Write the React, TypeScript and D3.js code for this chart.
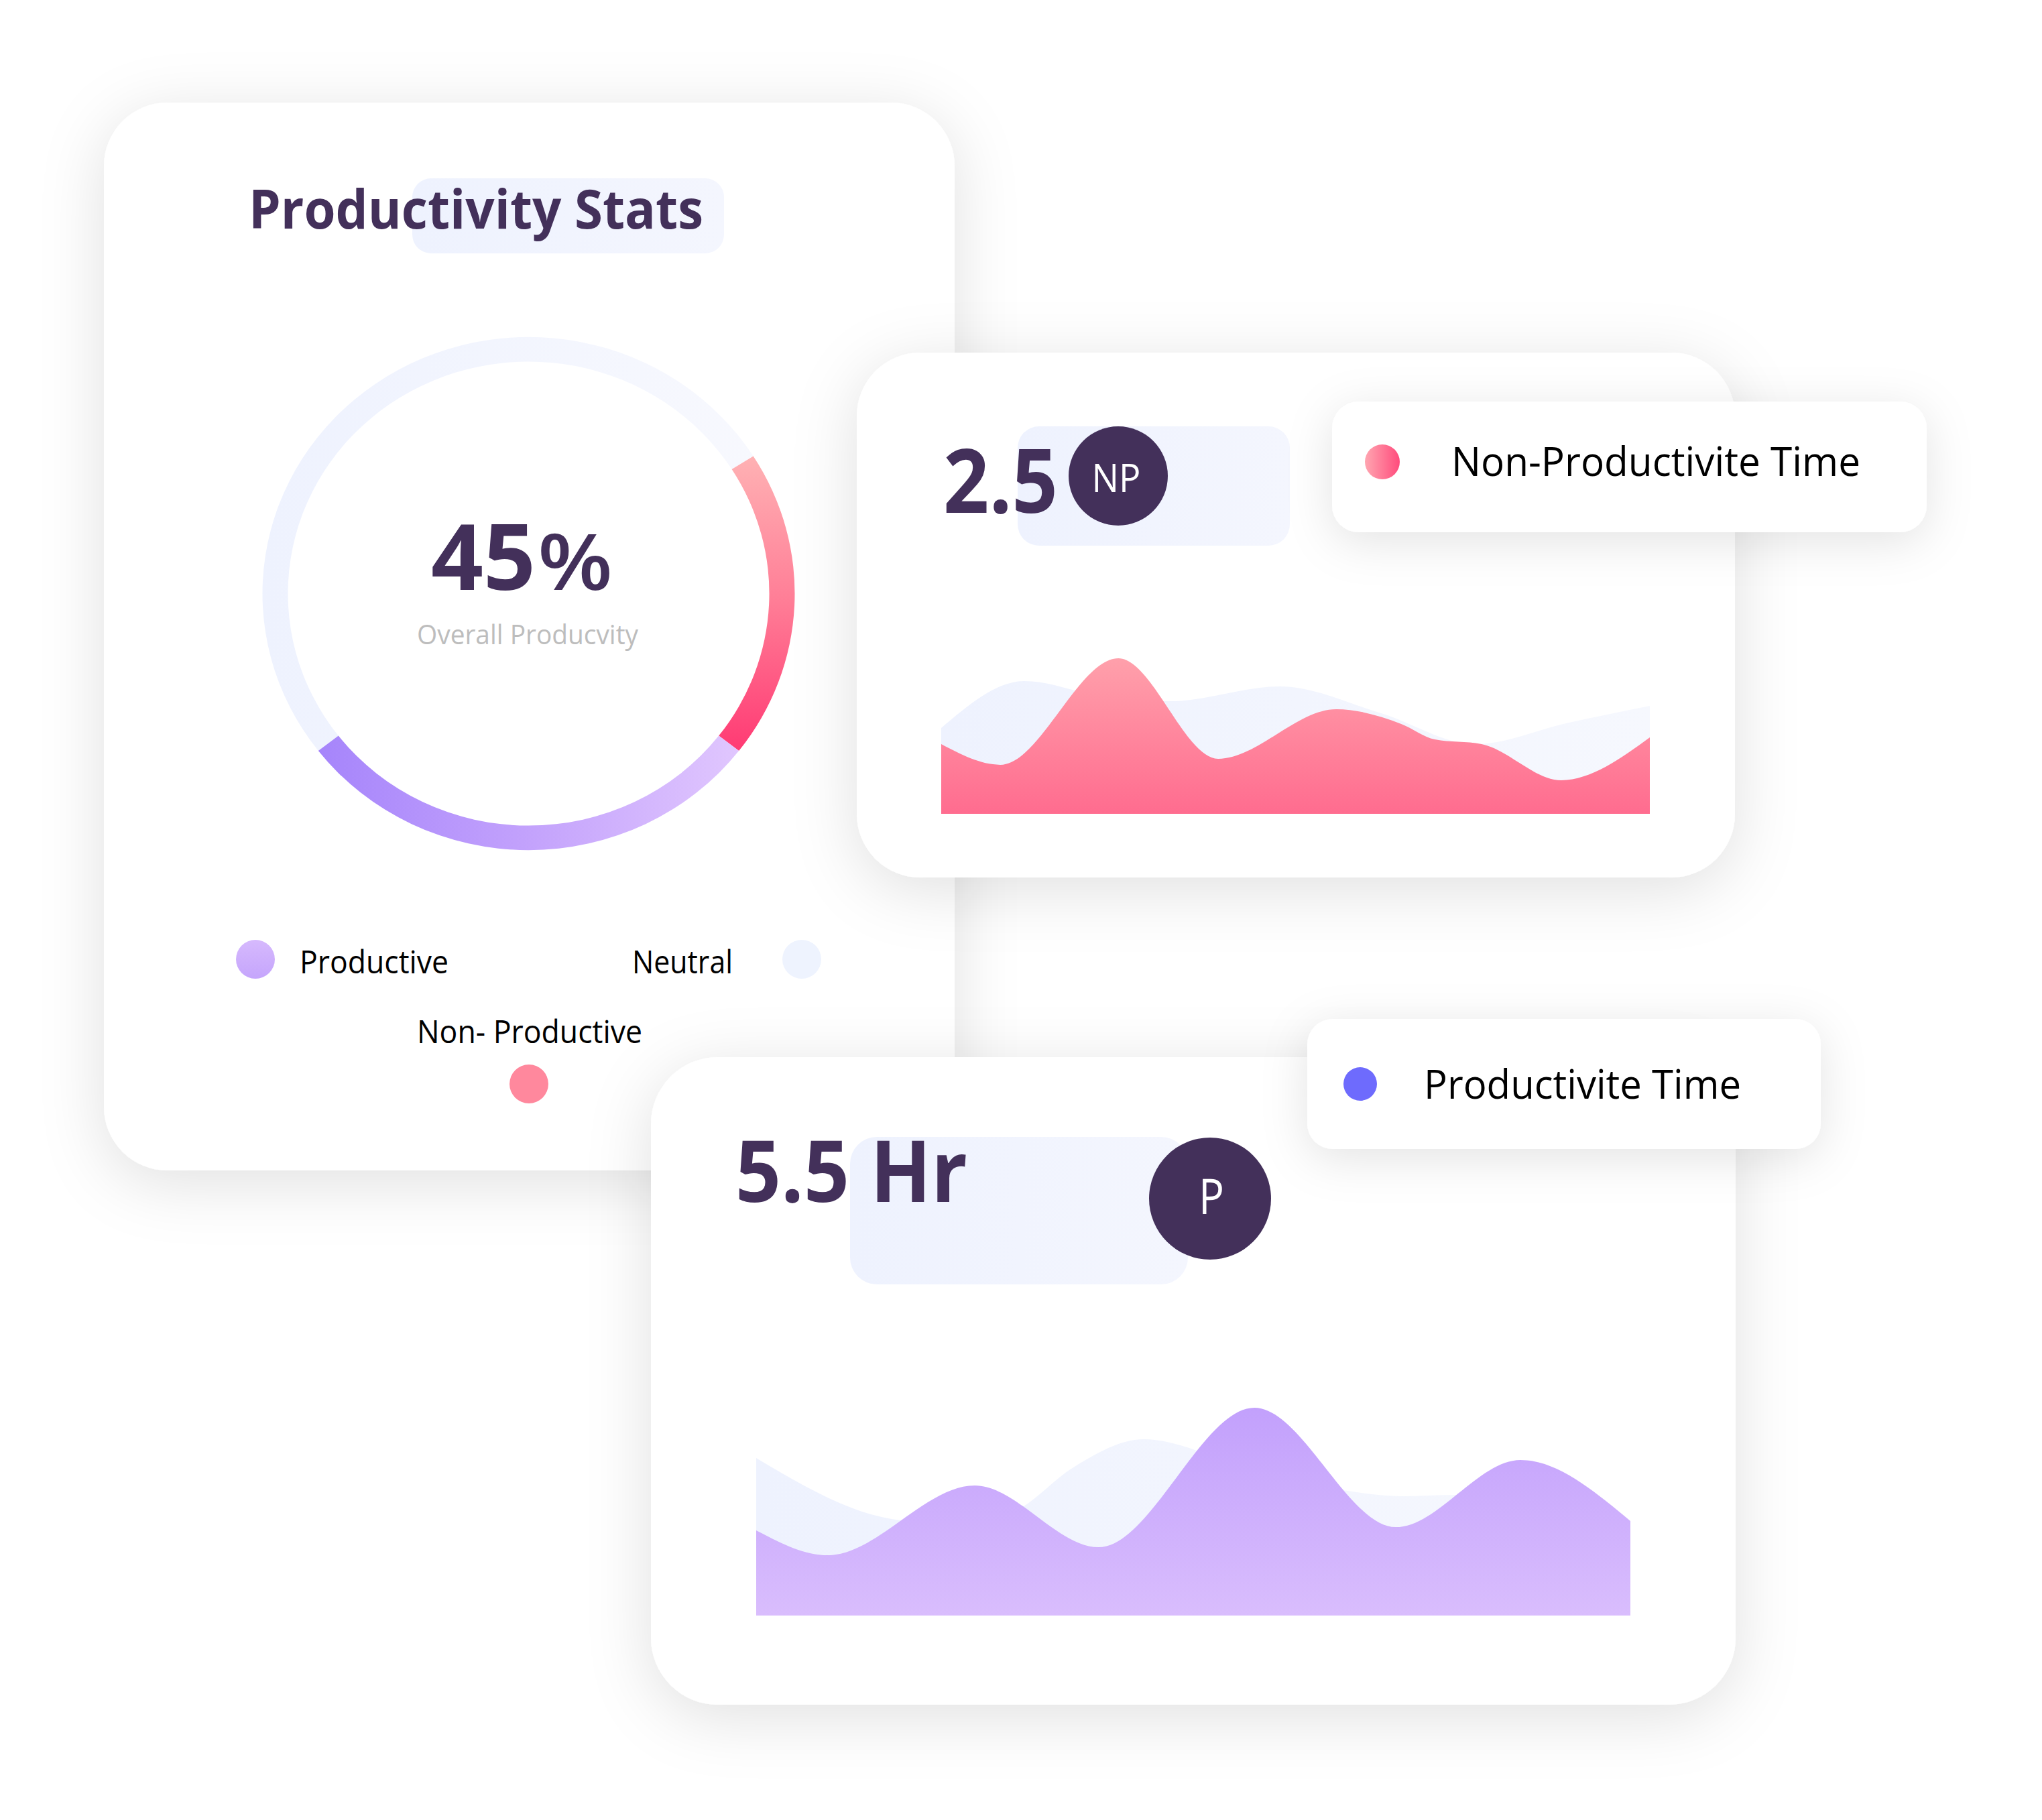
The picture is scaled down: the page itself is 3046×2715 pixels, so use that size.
import React from 'react';
import * as d3 from 'd3';

const W = 3046;
const H = 2715;

// Overall productivity split (percent of tracked time)
const donutCategories = ['Neutral', 'Non-Productive', 'Productive'];
const donutValues = [51.5, 19.5, 29];
const overallProductivity = 45;
const overallLabel = 'Overall Producvity';

const legendLabels = ['Productive', 'Neutral', 'Non- Productive'];

// Non-productive time over the day (hour, level)
const npHours = [0, 1.0, 3.0, 4.69, 6.69, 7.79, 8.36, 9.15, 10.5, 12];
const npValues = [37.1, 26.1, 82.9, 29.3, 55.7, 47.9, 39.6, 37.1, 17.9, 40.7];
const npBgHours = [0, 1.41, 2.79, 3.87, 5.74, 7.45, 9.04, 10.63, 12];
const npBgValues = [45.7, 70.7, 62.1, 60, 67.9, 53.6, 37.1, 48.6, 57.5];
const npTotal = '2.5';
const npBadge = 'NP';
const npLegend = 'Non-Productivite Time';

// Productive time over the day (hour, level)
const pHours = [0, 0.98, 3.0, 4.7, 6.84, 8.78, 10.49, 12];
const pValues = [45.4, 32.1, 69.3, 36.4, 110.7, 47.1, 82.9, 50.4];
const pBgHours = [0, 1.86, 2.87, 3.61, 4.34, 5.32, 6.64, 8.06, 8.85, 9.61, 10.78, 12];
const pBgValues = [83.9, 51.4, 48.2, 56.8, 78.6, 93.9, 80.4, 66.8, 63.6, 64.3, 52.9, 42.9];
const pTotal = '5.5 Hr';
const pBadge = 'P';
const pLegend = 'Productivite Time';

const FONT = "'Open Sans', 'Noto Sans', sans-serif";
const INK = '#43305a';

type Pt = [number, number];
const zip = (xs: number[], ys: number[]): Pt[] => xs.map((x, i) => [x, ys[i]]);

export default function App() {
  const deg = Math.PI / 180;
  const start = -127.8 * deg;
  const pie = d3
    .pie<number>()
    .sort(null)
    .value((d) => d)
    .startAngle(start)
    .endAngle(start + 2 * Math.PI);
  const arcs = pie(donutValues);
  const arcGen = d3.arc<d3.PieArcDatum<number>>().innerRadius(359).outerRadius(397);
  const arcFills = ['url(#gNeutral)', 'url(#gNonProd)', 'url(#gProd)'];

  // Non-productive chart scales
  const npX = d3.scaleLinear().domain([0, 12]).range([1404, 2461]);
  const npY = d3.scaleLinear().domain([0, 100]).range([1214, 934]);
  const npArea = d3
    .area<Pt>()
    .x((d) => npX(d[0]))
    .y0(npY(0))
    .y1((d) => npY(d[1]))
    .curve(d3.curveMonotoneX);

  // Productive chart scales
  const pX = d3.scaleLinear().domain([0, 12]).range([1128, 2432]);
  const pY = d3.scaleLinear().domain([0, 120]).range([2410, 2074]);
  const pArea = d3
    .area<Pt>()
    .x((d) => pX(d[0]))
    .y0(pY(0))
    .y1((d) => pY(d[1]))
    .curve(d3.curveMonotoneX);

  return (
    <svg
      width={W}
      height={H}
      viewBox={`0 0 ${W} ${H}`}
      style={{ position: 'absolute', left: 0, top: 0, background: '#fff' }}
      fontFamily={FONT}
    >
      <defs>
        <filter id="cardShadow" x="-30%" y="-30%" width="160%" height="160%">
          <feDropShadow dx="0" dy="18" stdDeviation="48" floodColor="#000" floodOpacity="0.12" />
        </filter>
        <filter id="tagShadow" x="-30%" y="-60%" width="160%" height="220%">
          <feDropShadow dx="0" dy="14" stdDeviation="34" floodColor="#000" floodOpacity="0.11" />
        </filter>
        <linearGradient id="gNeutral" gradientUnits="userSpaceOnUse" x1={-397} y1={0} x2={397} y2={0}>
          <stop offset="0" stopColor="#eef2fe" />
          <stop offset="1" stopColor="#f8f9fe" />
        </linearGradient>
        <linearGradient id="gNonProd" gradientUnits="userSpaceOnUse" x1={0} y1={-215} x2={0} y2={240}>
          <stop offset="0" stopColor="#ffb2b4" />
          <stop offset="0.5" stopColor="#ff7d96" />
          <stop offset="1" stopColor="#ff3b74" />
        </linearGradient>
        <linearGradient id="gProd" gradientUnits="userSpaceOnUse" x1={-310} y1={0} x2={310} y2={0}>
          <stop offset="0" stopColor="#a685fb" />
          <stop offset="0.5" stopColor="#c3a2fc" />
          <stop offset="1" stopColor="#e0c6fe" />
        </linearGradient>
        <linearGradient id="gHighlight" x1="0" y1="0" x2="1" y2="0">
          <stop offset="0" stopColor="#eef2fe" />
          <stop offset="1" stopColor="#f4f6fe" />
        </linearGradient>
        <linearGradient id="gNpArea" gradientUnits="userSpaceOnUse" x1={0} y1={982} x2={0} y2={1214}>
          <stop offset="0" stopColor="#ffa0ab" />
          <stop offset="1" stopColor="#ff6c8f" />
        </linearGradient>
        <linearGradient id="gPArea" gradientUnits="userSpaceOnUse" x1={0} y1={2095} x2={0} y2={2410}>
          <stop offset="0" stopColor="#c2a0fc" />
          <stop offset="1" stopColor="#d9bdfd" />
        </linearGradient>
        <linearGradient id="gBgArea" x1="0" y1="0" x2="1" y2="0">
          <stop offset="0" stopColor="#eef2fe" />
          <stop offset="1" stopColor="#f6f8fe" />
        </linearGradient>
        <linearGradient id="gProdDot" x1="0" y1="0" x2="0" y2="1">
          <stop offset="0" stopColor="#d6b9fd" />
          <stop offset="1" stopColor="#c5a5fc" />
        </linearGradient>
        <linearGradient id="gNpDot" x1="0" y1="0" x2="1" y2="0">
          <stop offset="0" stopColor="#ffa6b1" />
          <stop offset="1" stopColor="#ff4b7c" />
        </linearGradient>
      </defs>

      {/* Productivity Stats card */}
      <rect x={155} y={153} width={1269} height={1593} rx={95} fill="#fff" filter="url(#cardShadow)" />
      <rect x={615} y={266} width={465} height={112} rx={28} fill="url(#gHighlight)" />
      <text x={371} y={341} fontSize={80} fontWeight={700} fill={INK} textLength={678} lengthAdjust="spacingAndGlyphs">
        Productivity Stats
      </text>

      <g transform="translate(788.5,885.5) scale(1,0.964)">
        {arcs.map((a, i) => (
          <path key={donutCategories[i]} d={arcGen(a) || ''} fill={arcFills[i]} />
        ))}
      </g>
      <text x={643} y={880} fontSize={136} fontWeight={700} fill={INK} textLength={156} lengthAdjust="spacingAndGlyphs">
        {String(overallProductivity)}
      </text>
      <text x={802} y={880} fontSize={116} fontWeight={600} fill={INK} textLength={112} lengthAdjust="spacingAndGlyphs">
        %
      </text>
      <text x={622} y={961} fontSize={40} fill="#bdbdbd" textLength={330} lengthAdjust="spacingAndGlyphs">
        {overallLabel}
      </text>

      {/* donut legend */}
      <circle cx={381} cy={1431} r={29} fill="url(#gProdDot)" />
      <text x={447} y={1452} fontSize={47} fill="#000" textLength={222} lengthAdjust="spacingAndGlyphs">
        {legendLabels[0]}
      </text>
      <text x={943} y={1452} fontSize={47} fill="#000" textLength={150} lengthAdjust="spacingAndGlyphs">
        {legendLabels[1]}
      </text>
      <circle cx={1196} cy={1431} r={29} fill="#eef3fe" />
      <text x={622} y={1556} fontSize={47} fill="#000" textLength={336} lengthAdjust="spacingAndGlyphs">
        {legendLabels[2]}
      </text>
      <circle cx={789} cy={1617} r={29} fill="#ff889d" />

      {/* Non-productive time card */}
      <rect x={1278} y={526} width={1310} height={783} rx={95} fill="#fff" filter="url(#cardShadow)" />
      <rect x={1518} y={636} width={406} height={178} rx={32} fill="url(#gHighlight)" />
      <text x={1407} y={765} fontSize={133} fontWeight={700} fill={INK} textLength={171} lengthAdjust="spacingAndGlyphs">
        {npTotal}
      </text>
      <circle cx={1668} cy={710} r={74} fill={INK} />
      <text x={1665} y={734} fontSize={59} fill="#fff" textAnchor="middle" textLength={73} lengthAdjust="spacingAndGlyphs">
        {npBadge}
      </text>
      <path d={npArea(zip(npBgHours, npBgValues)) || ''} fill="url(#gBgArea)" />
      <path d={npArea(zip(npHours, npValues)) || ''} fill="url(#gNpArea)" />

      <rect x={1987} y={599} width={887} height={195} rx={40} fill="#fff" filter="url(#tagShadow)" />
      <circle cx={2062} cy={689} r={26} fill="url(#gNpDot)" />
      <text x={2165} y={710} fontSize={60} fill="#000" textLength={610} lengthAdjust="spacingAndGlyphs">
        {npLegend}
      </text>

      {/* Productive time card */}
      <rect x={971} y={1577} width={1618} height={966} rx={100} fill="#fff" filter="url(#cardShadow)" />
      <rect x={1268} y={1696} width={504} height={220} rx={40} fill="url(#gHighlight)" />
      <text x={1097} y={1793} fontSize={128} fontWeight={700} fill={INK} textLength={346} lengthAdjust="spacingAndGlyphs">
        {pTotal}
      </text>
      <circle cx={1805} cy={1788} r={91} fill={INK} />
      <text x={1807} y={1811} fontSize={74} fill="#fff" textAnchor="middle" textLength={38} lengthAdjust="spacingAndGlyphs">
        {pBadge}
      </text>
      <path d={pArea(zip(pBgHours, pBgValues)) || ''} fill="url(#gBgArea)" />
      <path d={pArea(zip(pHours, pValues)) || ''} fill="url(#gPArea)" />

      <rect x={1950} y={1520} width={766} height={194} rx={38} fill="#fff" filter="url(#tagShadow)" />
      <circle cx={2029} cy={1617} r={25} fill="#6e6bfd" />
      <text x={2124} y={1639} fontSize={60} fill="#000" textLength={473} lengthAdjust="spacingAndGlyphs">
        {pLegend}
      </text>
    </svg>
  );
}
